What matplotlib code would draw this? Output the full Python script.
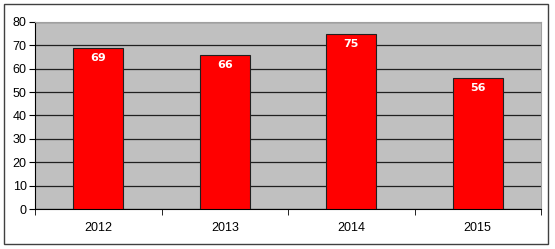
import matplotlib
matplotlib.use("Agg")
import matplotlib.pyplot as plt
from matplotlib.patches import Rectangle

years = ["2012", "2013", "2014", "2015"]
values = [69, 66, 75, 56]
yticks = [0, 10, 20, 30, 40, 50, 60, 70, 80]

plt.rcParams['font.family'] = ['Liberation Sans', 'DejaVu Sans']
W, H = 555, 249
fig = plt.figure(figsize=(W/100, H/100), dpi=100)
fig.patch.set_facecolor('white')
fig.add_artist(Rectangle((4/W, 1-244/H), 544/W, 240/H, transform=fig.transFigure,
                         fill=False, edgecolor='#404040', linewidth=1.0))

ax = fig.add_axes([35/W, 1-209/H, (541-35)/W, (209-22)/H])
ax.set_facecolor('#c0c0c0')
x = list(range(len(years)))
bars = ax.bar(x, values, width=0.395, color='#ff0000', edgecolor='#202020', linewidth=0.8, zorder=3)
for xi, v in zip(x, values):
    ax.text(xi, v - 2.2, str(v), ha='center', va='top', color='white',
            fontsize=8, fontweight='bold', family='DejaVu Sans', zorder=4)
ax.set_xlim(-0.5, len(years) - 0.5)
ax.set_ylim(0, 80)
ax.set_yticks(yticks)
ax.set_yticklabels([str(t) for t in yticks], fontsize=9)
ax.set_xticks(x)
ax.set_xticklabels(years, fontsize=9)
ax.tick_params(axis='x', length=0, pad=9)
ax.set_xticks([i + 0.5 for i in range(-1, len(years))], minor=True)
ax.tick_params(axis='x', which='minor', length=4, direction='out', color='black')
ax.tick_params(axis='y', length=4, direction='out', color='black', pad=2)
ax.yaxis.grid(True, color='#202020', linewidth=0.9, zorder=1)
ax.set_axisbelow(True)
for s in ['top', 'right']:
    ax.spines[s].set_color('#a0a0a0')
    ax.spines[s].set_linewidth(0.8)
ax.spines['left'].set_color('black')
ax.spines['bottom'].set_color('black')
ax.spines['left'].set_linewidth(0.8)
ax.spines['bottom'].set_linewidth(0.8)
fig.savefig('out.png', dpi=100)
